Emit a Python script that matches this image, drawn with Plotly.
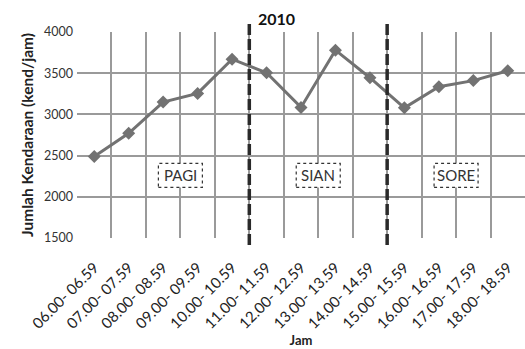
import plotly.graph_objects as go

# Hourly traffic volume, 2010
jam = ["06.00- 06.59", "07.00- 07.59", "08.00- 08.59", "09.00- 09.59",
       "10.00- 10.59", "11.00- 11.59", "12.00- 12.59", "13.00- 13.59",
       "14.00- 14.59", "15.00- 15.59", "16.00- 16.59", "17.00- 17.59",
       "18.00- 18.59"]
kendaraan = [2490, 2770, 3150, 3255, 3670, 3505, 3085, 3780, 3445, 3080, 3335, 3410, 3530]

# Period labels and the category boundaries separating them
periode = ["PAGI", "SIAN", "SORE"]
periode_x = [2.5, 6.5, 10.5]
periode_y = 2260
batas = [4.5, 8.5]

FONT = "Lato"
L, R, T, B, W, H = 77, 0, 32, 111, 525, 349
PW, PH = W - L - R, H - T - B

fig = go.Figure()
fig.add_trace(go.Scatter(
    x=jam, y=kendaraan, mode="lines+markers",
    line=dict(color="#727272", width=3),
    marker=dict(symbol="diamond", size=10, color="#727272"),
    showlegend=False, cliponaxis=False,
))

# Dashed separators between morning / midday / afternoon
for b in batas:
    fig.add_shape(type="line", xref="x", yref="paper", x0=b, x1=b,
                  y0=-7 / PH, y1=1 + 8 / PH,
                  line=dict(color="#2a2a2a", width=3.5, dash="11px,4px"), layer="above")

# Period label boxes with dotted borders
for name, px in zip(periode, periode_x):
    fig.add_shape(type="rect", xref="x", yref="y", xsizemode="pixel", ysizemode="pixel",
                  xanchor=px, yanchor=periode_y, x0=-22, x1=22, y0=-12, y1=12,
                  fillcolor="white", line=dict(color="#333333", width=1.2, dash="dot"),
                  layer="above")
    fig.add_annotation(x=px, y=periode_y, xref="x", yref="y", text=name, showarrow=False,
                       font=dict(family=FONT, size=15, color="#333333"))

fig.add_annotation(x=(276 - L) / PW, y=1 + (T - 18) / PH, xref="paper", yref="paper",
                   text="<b>2010</b>", showarrow=False, xanchor="center", yanchor="middle",
                   font=dict(family=FONT, size=16, color="#111111"))

fig.update_layout(
    width=W, height=H,
    margin=dict(l=L, r=R, t=T, b=B),
    paper_bgcolor="white", plot_bgcolor="white",
    font=dict(family=FONT, color="#333333"),
    xaxis=dict(
        type="category", tickson="boundaries", range=[-0.5, 12.5],
        showgrid=True, gridcolor="#9a9a9a", gridwidth=2,
        tickangle=-45, tickfont=dict(size=15, color="#222222"),
        ticks="", showline=False, ticklabelstandoff=17,
        title=dict(text="<b>Jam</b>", font=dict(size=13, color="#222222"), standoff=4),
    ),
    yaxis=dict(
        range=[1500, 4000], dtick=500, showgrid=True, gridcolor="#9a9a9a", gridwidth=1.5,
        tickfont=dict(size=12.5, color="#333333"), ticks="", showline=False, zeroline=False,
        ticklabelstandoff=3,
        title=dict(text="<b>Jumlah Kendaraan (kend/jam)</b>", font=dict(size=15.5, color="#222222"),
                   standoff=6),
    ),
)

fig.write_html("out.html")
